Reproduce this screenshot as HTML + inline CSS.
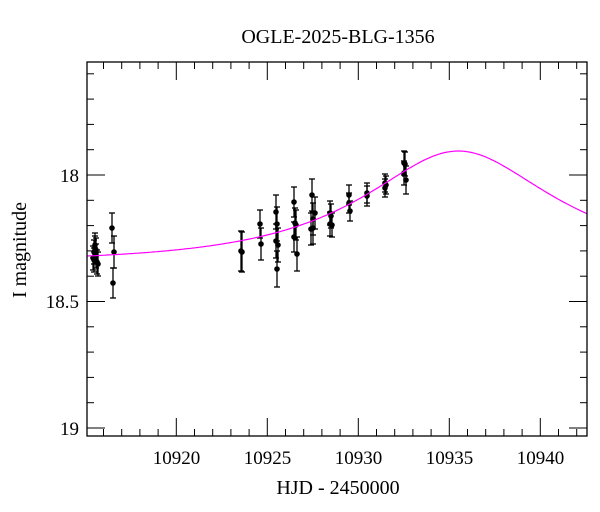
<!DOCTYPE html>
<html><head><meta charset="utf-8"><style>html,body{margin:0;padding:0;background:#fff}svg{display:block}</style></head>
<body>
<svg id="s" width="600" height="512" xmlns="http://www.w3.org/2000/svg" font-family="Liberation Serif, serif">
<rect width="600" height="512" fill="#fff"/>
<text x="338" y="43" font-size="20" text-anchor="middle">OGLE-2025-BLG-1356</text>
<text x="338" y="494" font-size="20" text-anchor="middle">HJD - 2450000</text>
<text transform="translate(26,250) rotate(-90)" font-size="20" text-anchor="middle">I magnitude</text>
<g font-size="19" text-anchor="middle">
<text x="176.5" y="464">10920</text><text x="267.5" y="464">10925</text><text x="358.5" y="464">10930</text><text x="449.5" y="464">10935</text><text x="540.5" y="464">10940</text>
</g>
<g font-size="19" text-anchor="end">
<text x="79" y="182">18</text><text x="79" y="308">18.5</text><text x="79" y="435">19</text>
</g>
<g id="ticks" stroke="#000" stroke-width="1"></g>
<g id="data" stroke="#000" stroke-width="1.3"></g>
<path id="curve" fill="none" stroke="#ff00ff" stroke-width="1.2"/>
<rect x="87" y="62" width="500" height="374" fill="none" stroke="#000" stroke-width="1.3"/>
</svg>
<script>
var ns="http://www.w3.org/2000/svg";
function L(g,x1,y1,x2,y2){var l=document.createElementNS(ns,"line");l.setAttribute("x1",x1);l.setAttribute("y1",y1);l.setAttribute("x2",x2);l.setAttribute("y2",y2);g.appendChild(l);}
var t=document.getElementById("ticks");
function X(d){return 176.3+(d-10920)*18.2;}
function Y(m){return 175+(m-18)*253;}
for(var d=10916;d<=10942;d++){var x=X(d);var len=(d%5==0)?18:7;L(t,x,436,x,436-len);L(t,x,62,x,62+len);}
for(var i=-4;i<=10;i++){var m=18+i*0.1;var y=Y(m);if(y<62||y>436)continue;var len=(i%5==0)?18:7;L(t,87,y,87+len,y);L(t,587,y,587-len,y);}
var p="";for(var x=87;x<=587;x+=2){var d=10920+(x-176.3)/18.2;var tau=(d-10935.5)/10;var u=Math.sqrt(0.25+tau*tau);var A=(u*u+2)/(u*Math.sqrt(u*u+4));var m=18.344-2.5*Math.log10(1+0.421*(A-1));p+=(x==87?"M":"L")+x+","+Y(m).toFixed(1);}
document.getElementById("curve").setAttribute("d",p);
var pts=[[94,252,12],[95,248,12],[96,256,12],[94,260,12],[97,262,12],[95,245,12],[96,250,12],[98,264,12],[93,258,12],
[112,228,15],[114,252,16],[113,283,15],
[241,251,20],[242,252,20],[260,224,14],[261,244,16],[276,212,17],[277,224,17],[276,241,17],[278,245,17],[277,269,18],
[294,202,15],[295,223,15],[296,225,15],[294,237,15],[297,254,17],[312,195,16],[315,213,16],[313,219,16],[313,228,16],[311,229,16],
[330,213,12],[331,216,12],[330,224,12],[332,225,12],[349,195,10],[349,203,10],[350,211,10],[367,193,10],[367,196,10],
[385,183,9],[386,185,9],[385,188,9],[404,163,12],[405,164,12],[404,173,12],[406,180,14]];
var g=document.getElementById("data");
pts.forEach(function(q){L(g,q[0],q[1]-q[2],q[0],q[1]+q[2]);L(g,q[0]-3,q[1]-q[2],q[0]+3,q[1]-q[2]);L(g,q[0]-3,q[1]+q[2],q[0]+3,q[1]+q[2]);var c=document.createElementNS(ns,"circle");c.setAttribute("cx",q[0]);c.setAttribute("cy",q[1]);c.setAttribute("r",2.8);c.setAttribute("fill","#000");c.setAttribute("stroke","none");g.appendChild(c);});
</script>
</body></html>
